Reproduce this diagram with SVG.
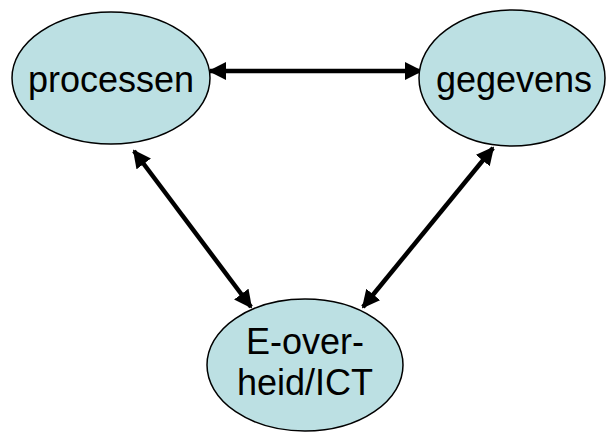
<svg xmlns="http://www.w3.org/2000/svg" width="607" height="432" viewBox="0 0 607 432">
  <style>
    .node ellipse { fill: #bce0e3; stroke: #000; stroke-width: 1.5; }
    .node text { font-family: "Liberation Sans", Arial, sans-serif; font-size: 36px; fill: #000; text-anchor: middle; }
    .edge { stroke: #000; stroke-width: 4.5; fill: none; marker-start: url(#head); marker-end: url(#head); }
  </style>
  <defs>
    <marker id="head" viewBox="0 0 10 10" refX="9" refY="5" markerWidth="4" markerHeight="4" orient="auto-start-reverse" markerUnits="strokeWidth">
      <path d="M0,0 L10,5 L0,10 Z" fill="#000"/>
    </marker>
  </defs>
  <g id="connectors">
    <line class="edge" x1="210" y1="71" x2="421" y2="71"/>
    <line class="edge" x1="134" y1="151" x2="251" y2="307"/>
    <line class="edge" x1="493" y1="148" x2="363" y2="307"/>
  </g>
  <g id="processen" class="node">
    <ellipse cx="111" cy="78" rx="99" ry="66"/>
    <text x="111" y="92">processen</text>
  </g>
  <g id="gegevens" class="node">
    <ellipse cx="512" cy="78" rx="93" ry="68"/>
    <text x="514" y="92">gegevens</text>
  </g>
  <g id="e-overheid" class="node">
    <ellipse cx="305" cy="365" rx="98" ry="66"/>
    <text x="305" y="354">E-over-</text>
    <text x="305" y="395">heid/ICT</text>
  </g>
</svg>
